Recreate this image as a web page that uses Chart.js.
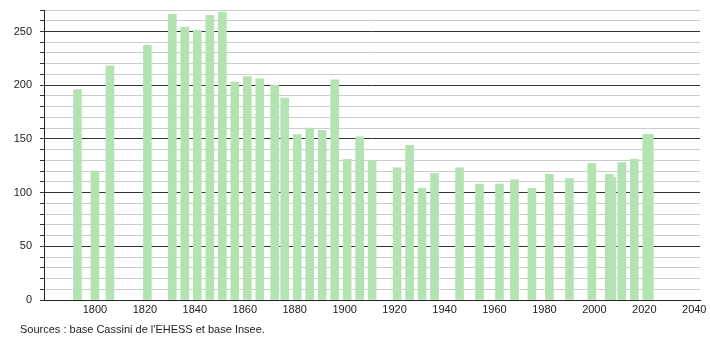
<!DOCTYPE html>
<html>
<head>
<meta charset="utf-8">
<script src="https://cdn.jsdelivr.net/npm/chart.js@4/dist/chart.umd.min.js"></script>
<style>
  html, body { margin: 0; padding: 0; background: #fff; }
  #wrap { position: relative; width: 710px; height: 340px; }
  #source { position: absolute; left: 20px; top: 323px; font: 11px "Liberation Sans", Arial, sans-serif; color: #222; white-space: nowrap; }
</style>
</head>
<body>
<div id="wrap">
  <canvas id="c" width="710" height="340"></canvas>
  <div id="source">Sources : base Cassini de l'EHESS et base Insee.</div>
</div>
<script>
const years = [1793, 1800, 1806, 1821, 1831, 1836, 1841, 1846, 1851, 1856, 1861, 1866, 1872, 1876, 1881, 1886, 1891, 1896, 1901, 1906, 1911, 1921, 1926, 1931, 1936, 1946, 1954, 1962, 1968, 1975, 1982, 1990, 1999, 2006, 2007, 2011, 2016, 2021, 2022];
const population = [196, 120, 218, 237, 266, 254, 251, 265, 268, 203, 208, 206, 200, 188, 154, 160, 158, 205, 131, 152, 130, 123, 144, 104, 118, 123, 108, 108, 112, 104, 117, 113, 127, 117, 114, 128, 131, 154, 154];
const xTickValues = [1800, 1820, 1840, 1860, 1880, 1900, 1920, 1940, 1960, 1980, 2000, 2020, 2040];
const yLabelValues = [0, 50, 100, 150, 200, 250];

const points = years.map((y, i) => ({ x: y, y: population[i] }));
const font = { family: '"Liberation Sans", Arial, sans-serif', size: 11 };

new Chart(document.getElementById('c'), {
  type: 'bar',
  data: {
    datasets: [{
      data: points,
      backgroundColor: '#b3e3b1',
      borderWidth: 0,
      barThickness: 8
    }]
  },
  options: {
    responsive: false,
    animation: false,
    layout: { padding: { top: 10, right: 10, bottom: 20, left: 0 } },
    plugins: { legend: { display: false }, tooltip: { enabled: false } },
    scales: {
      x: {
        type: 'linear',
        offset: false,
        min: 1779.6,
        max: 2042.3,
        afterBuildTicks: (s) => { s.ticks = xTickValues.map(v => ({ value: v })); },
        afterFit: (s) => { s.height = 20; s.paddingLeft = 0; s.paddingRight = 0; },
        grid: { display: false, drawTicks: false },
        border: { display: true, color: '#222', width: 1 },
        ticks: { font, color: '#222', padding: 3, maxRotation: 0, autoSkip: false, callback: (v) => String(v) }
      },
      y: {
        min: 0,
        max: 270,
        afterFit: (s) => { s.width = 44; s.paddingTop = 0; s.paddingBottom = 0; },
        afterBuildTicks: (s) => { const t = []; for (let v = 0; v <= 270; v += 10) t.push({ value: v }); s.ticks = t; },
        grid: {
          color: (ctx) => (ctx.tick && ctx.tick.value % 50 === 0) ? '#333' : '#cccccc',
          lineWidth: 1,
          tickColor: '#333',
          tickLength: 4,
          drawTicks: true
        },
        border: { display: true, color: '#222', width: 1 },
        ticks: {
          font, color: '#222', padding: 8, autoSkip: false,
          callback: (v) => yLabelValues.includes(v) ? String(v) : ''
        }
      }
    }
  }
});
</script>
</body>
</html>
